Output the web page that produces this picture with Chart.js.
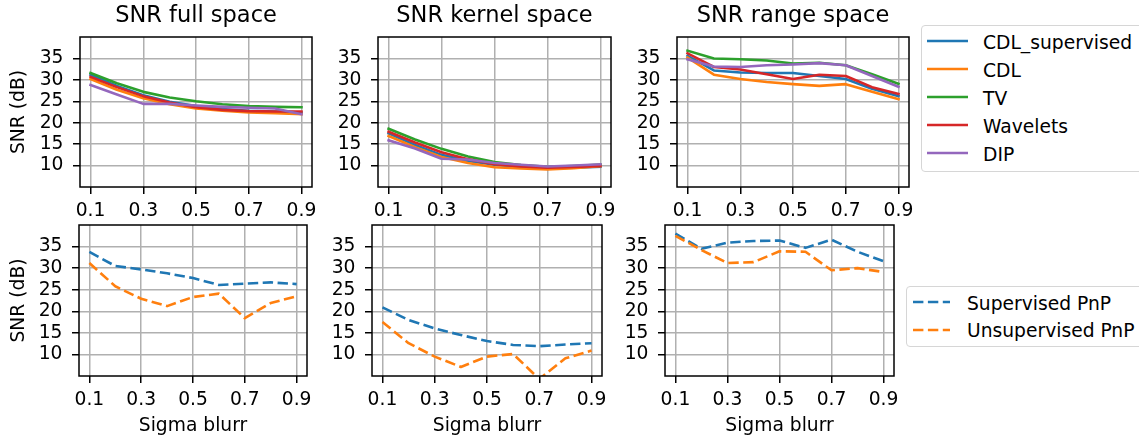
<!DOCTYPE html>
<html><head><meta charset="utf-8">
<script src="https://cdn.jsdelivr.net/npm/chart.js@4.4.1/dist/chart.umd.min.js"></script>
<style>
html,body{margin:0;padding:0;background:#fff;}
#fig{position:relative;width:1139px;height:439px;overflow:hidden;background:#fff;font-family:'DejaVu Sans';}
#fig canvas{position:absolute;}
.legend{position:absolute;border:1px solid #d6d6d6;border-radius:4px;background:#fff;box-sizing:border-box;}
.legend svg{position:absolute;overflow:visible;}
.legend span{position:absolute;font-family:'DejaVu Sans';font-size:18.7px;line-height:normal;white-space:nowrap;color:#000;}
</style></head>
<body>
<div id="fig"></div>
<script>
// ---------- data ----------
const sigma = [0.1, 0.2, 0.3, 0.4, 0.5, 0.6, 0.7, 0.8, 0.9];
const xTicks = [0.1, 0.3, 0.5, 0.7, 0.9];
const yTicks = [10, 15, 20, 25, 30, 35];

const methodNames = ['CDL_supervised', 'CDL', 'TV', 'Wavelets', 'DIP'];
const pnpNames = ['Supervised PnP', 'Unsupervised PnP'];
const panelTitles = ['SNR full space', 'SNR kernel space', 'SNR range space'];

// top row: SNR full space
const full_CDL_supervised = [31.2, 28.6, 26.4, 24.9, 23.9, 23.2, 22.8, 22.6, 22.4];
const full_CDL            = [30.2, 27.7, 25.7, 24.3, 23.3, 22.8, 22.4, 22.2, 22.0];
const full_TV             = [31.6, 29.2, 27.2, 25.9, 25.0, 24.3, 23.9, 23.7, 23.6];
const full_Wavelets       = [30.7, 28.3, 26.2, 24.7, 23.6, 23.0, 22.7, 22.6, 22.6];
const full_DIP            = [28.8, 26.6, 24.4, 24.4, 24.0, 23.7, 23.5, 23.3, 22.0];
// top row: SNR kernel space
const kernel_CDL_supervised = [17.5, 14.8, 12.5, 11.1, 10.2, 9.7, 9.4, 9.5, 9.7];
const kernel_CDL            = [16.9, 14.3, 12.0, 10.6, 9.6, 9.3, 9.1, 9.4, 9.9];
const kernel_TV             = [18.6, 16.1, 13.9, 12.1, 10.8, 10.1, 9.7, 9.9, 10.2];
const kernel_Wavelets       = [17.9, 15.4, 13.1, 11.5, 10.3, 9.8, 9.5, 9.7, 9.9];
const kernel_DIP            = [15.9, 14.0, 11.6, 11.4, 10.6, 10.2, 9.8, 10.0, 10.3];
// top row: SNR range space
const range_CDL_supervised = [35.6, 32.2, 31.7, 31.6, 31.6, 30.9, 30.2, 27.9, 26.2];
const range_CDL            = [35.2, 31.2, 30.2, 29.5, 29.0, 28.6, 29.0, 27.2, 25.5];
const range_TV             = [36.8, 35.0, 34.8, 34.5, 33.8, 34.0, 33.4, 31.3, 29.1];
const range_Wavelets       = [36.2, 33.0, 32.4, 31.3, 30.2, 31.2, 30.9, 28.3, 26.7];
const range_DIP            = [34.8, 33.1, 33.0, 33.4, 33.6, 33.9, 33.4, 30.9, 28.4];
// bottom row: PnP
const full_sup_pnp     = [33.75, 30.5, 29.7, 28.8, 27.7, 26.1, 26.4, 26.7, 26.3];
const full_unsup_pnp   = [31.2, 25.8, 22.9, 21.2, 23.3, 24.1, 18.4, 21.9, 23.5];
const kernel_sup_pnp   = [20.9, 18.0, 16.0, 14.5, 13.1, 12.2, 11.9, 12.3, 12.6];
const kernel_unsup_pnp = [17.5, 12.6, 9.5, 7.1, 9.5, 10.1, 4.3, 9.1, 10.9];
const range_sup_pnp    = [38.0, 34.5, 35.9, 36.3, 36.4, 34.7, 36.6, 33.8, 31.6];
const range_unsup_pnp  = [37.5, 34.2, 31.2, 31.4, 33.9, 33.8, 29.5, 30.0, 29.1];

// ---------- styling ----------
const colors = ['#1f77b4', '#ff7f0e', '#2ca02c', '#d62728', '#9467bd'];
const FONT = 'DejaVu Sans';
const TICK_SIZE = 18.7;
const LW = 2.6;
const DASH = [10.4, 4.5];

Chart.defaults.font.family = FONT;
Chart.defaults.color = '#000';

const spines = {
  id: 'spines',
  afterDatasetsDraw(chart) {
    const {ctx, chartArea: a} = chart;
    ctx.save();
    ctx.strokeStyle = '#000';
    ctx.lineWidth = 1.5;
    ctx.strokeRect(a.left, a.top, a.right - a.left, a.bottom - a.top);
    ctx.restore();
  }
};

const fig = document.getElementById('fig');

function makePanel(p) {
  const c = document.createElement('canvas');
  c.width = p.w; c.height = p.h;
  c.style.left = p.left + 'px'; c.style.top = p.top + 'px';
  c.style.width = p.w + 'px'; c.style.height = p.h + 'px';
  fig.appendChild(c);
  const n = p.series.length;
  const datasets = p.series.map((vals, i) => ({
    label: p.names[i],
    data: sigma.map((x, k) => ({x: x, y: vals[k]})),
    borderColor: colors[i],
    backgroundColor: colors[i],
    borderWidth: LW,
    borderDash: p.dashed ? DASH : [],
    pointRadius: 0,
    tension: 0,
    fill: false,
    order: n - i,
    borderJoinStyle: 'round',
    borderCapStyle: p.dashed ? 'butt' : 'square'
  }));
  const grid = {color: '#b0b0b0', lineWidth: 1.5, tickColor: '#000', tickWidth: 1.5, tickLength: 7, drawTicks: true};
  new Chart(c, {
    type: 'line',
    data: {datasets},
    plugins: [spines],
    options: {
      responsive: false,
      animation: false,
      devicePixelRatio: 1,
      events: [],
      layout: {padding: {left: 0, right: 20, top: p.padTop, bottom: 0}},
      plugins: {
        legend: {display: false},
        tooltip: {enabled: false},
        title: {
          display: !!p.title, text: p.title || '', fullSize: false,
          font: {size: 22.5, weight: 'normal', family: FONT}, color: '#000',
          padding: {top: 2.7, bottom: 7.3}
        }
      },
      scales: {
        x: {
          type: 'linear', min: 0.06, max: 0.94,
          afterBuildTicks: s => { s.ticks = xTicks.map(v => ({value: v})); },
          afterFit: s => { s.height = p.xH; },
          grid: grid,
          border: {display: false},
          ticks: {font: {size: TICK_SIZE}, color: '#000', padding: 6.3, maxRotation: 0, autoSkip: false,
                  callback: v => Number(v).toFixed(1)},
          title: {display: !!p.xlabel, text: p.xlabel || '', font: {size: TICK_SIZE}, color: '#000',
                  padding: {top: 0, bottom: 1.8}}
        },
        y: {
          type: 'linear', min: 5, max: 40,
          afterBuildTicks: s => { s.ticks = yTicks.map(v => ({value: v})); },
          afterFit: s => { s.width = p.yW; },
          grid: grid,
          border: {display: false},
          ticks: {font: {size: TICK_SIZE}, color: '#000', padding: 9.5, autoSkip: false,
                  callback: v => String(v)},
          title: {display: !!p.ylabel, text: p.ylabel || '', font: {size: TICK_SIZE}, color: '#000',
                  padding: {top: 8.3, bottom: 0}}
        }
      }
    }
  });
}

// top row
makePanel({left: 0,   top: 0, w: 332, h: 227, padTop: 0, yW: 80, xH: 40, title: panelTitles[0], ylabel: 'SNR (dB)',
  names: methodNames, series: [full_CDL_supervised, full_CDL, full_TV, full_Wavelets, full_DIP]});
makePanel({left: 318, top: 0, w: 313, h: 227, padTop: 0, yW: 60, xH: 40, title: panelTitles[1],
  names: methodNames, series: [kernel_CDL_supervised, kernel_CDL, kernel_TV, kernel_Wavelets, kernel_DIP]});
makePanel({left: 617, top: 0, w: 312, h: 227, padTop: 0, yW: 60, xH: 40, title: panelTitles[2],
  names: methodNames, series: [range_CDL_supervised, range_CDL, range_TV, range_Wavelets, range_DIP]});
// bottom row
makePanel({left: 0,   top: 200, w: 327, h: 239, padTop: 25, yW: 79, xH: 63, ylabel: 'SNR (dB)', xlabel: 'Sigma blurr',
  dashed: true, names: pnpNames, series: [full_sup_pnp, full_unsup_pnp]});
makePanel({left: 312, top: 200, w: 310, h: 239, padTop: 25, yW: 60, xH: 63, xlabel: 'Sigma blurr',
  dashed: true, names: pnpNames, series: [kernel_sup_pnp, kernel_unsup_pnp]});
makePanel({left: 605, top: 200, w: 309, h: 239, padTop: 25, yW: 60, xH: 63, xlabel: 'Sigma blurr',
  dashed: true, names: pnpNames, series: [range_sup_pnp, range_unsup_pnp]});

// ---------- legends ----------
function makeLegend(box, names, dashed) {
  const d = document.createElement('div');
  d.className = 'legend';
  d.style.left = box.left + 'px'; d.style.top = box.top + 'px';
  d.style.width = box.w + 'px'; d.style.height = box.h + 'px';
  names.forEach((name, i) => {
    const cy = box.first + box.step * i;
    const svgNS = 'http://www.w3.org/2000/svg';
    const svg = document.createElementNS(svgNS, 'svg');
    svg.setAttribute('width', box.lineW); svg.setAttribute('height', 6);
    svg.style.left = box.lineX + 'px'; svg.style.top = (cy - 3) + 'px';
    const ln = document.createElementNS(svgNS, 'line');
    ln.setAttribute('x1', 0); ln.setAttribute('x2', box.lineW);
    ln.setAttribute('y1', 3); ln.setAttribute('y2', 3);
    ln.setAttribute('stroke', colors[i]); ln.setAttribute('stroke-width', LW);
    if (dashed) ln.setAttribute('stroke-dasharray', DASH.join(' '));
    svg.appendChild(ln);
    d.appendChild(svg);
    const s = document.createElement('span');
    s.textContent = name;
    s.style.left = box.textX + 'px';
    s.style.top = (cy - 9.5) + 'px';
    d.appendChild(s);
  });
  fig.appendChild(d);
}
makeLegend({left: 921, top: 25, w: 240, h: 147, first: 15, step: 28, lineX: 5, lineW: 41, textX: 61}, methodNames, false);
makeLegend({left: 906, top: 286, w: 250, h: 61, first: 15, step: 27.5, lineX: 6, lineW: 37, textX: 60}, pnpNames, true);
</script>
</body></html>
